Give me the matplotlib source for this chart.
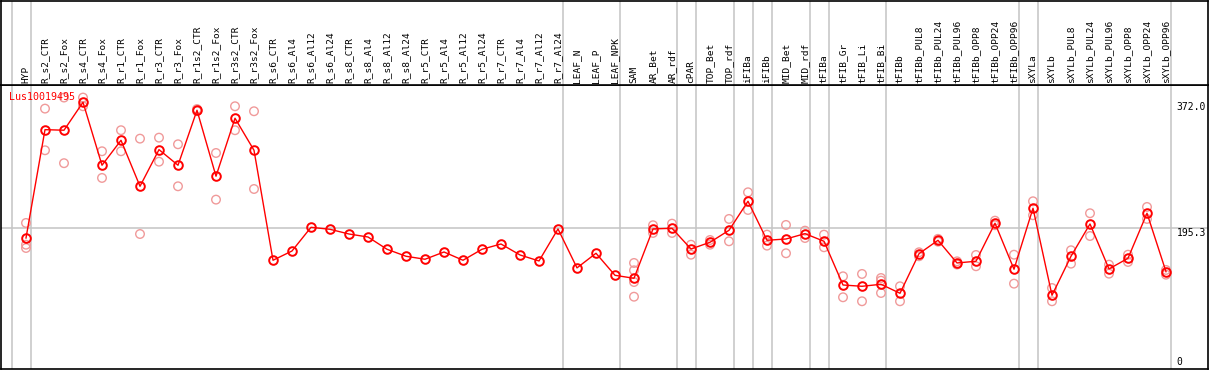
import matplotlib
matplotlib.use("Agg")
import matplotlib.pyplot as plt
import matplotlib.transforms as mtransforms
import numpy as np

# sample labels, one column each
labels = ["HYP",
          "R_s2_CTR", "R_s2_Fox", "R_s4_CTR", "R_s4_Fox", "R_r1_CTR", "R_r1_Fox",
          "R_r3_CTR", "R_r3_Fox", "R_r1s2_CTR", "R_r1s2_Fox", "R_r3s2_CTR", "R_r3s2_Fox",
          "R_s6_CTR", "R_s6_Al4", "R_s6_Al12", "R_s6_Al24",
          "R_s8_CTR", "R_s8_Al4", "R_s8_Al12", "R_s8_Al24",
          "R_r5_CTR", "R_r5_Al4", "R_r5_Al12", "R_r5_Al24",
          "R_r7_CTR", "R_r7_Al4", "R_r7_Al12", "R_r7_Al24",
          "LEAF_N", "LEAF_P", "LEAF_NPK",
          "SAM", "AR_Bet", "AR_rdf", "cPAR", "TOP_Bet", "TOP_rdf",
          "iFIBa", "iFIBb", "MID_Bet", "MID_rdf",
          "tFIBa", "tFIB_Gr", "tFIB_Li", "tFIB_Bi",
          "tFIBb", "tFIBb_PUL8", "tFIBb_PUL24", "tFIBb_PUL96",
          "tFIBb_OPP8", "tFIBb_OPP24", "tFIBb_OPP96",
          "sXYLa", "sXYLb", "sXYLb_PUL8", "sXYLb_PUL24", "sXYLb_PUL96",
          "sXYLb_OPP8", "sXYLb_OPP24", "sXYLb_OPP96"]

# columns per tissue group (gray separators between groups)
group_sizes = [1, 28, 3, 3, 1, 2, 1, 1, 2, 1, 3, 7, 1, 7]

gene = "Lus10019495"

means = [181.7,
         333.6, 332.8, 372.0, 283.7, 318.7, 254.2, 305.6, 283.7, 360.8, 268.3, 349.6, 304.7,
         150.5, 163.5, 196.7, 193.9, 187.3, 183.1, 165.9, 156.1,
         151.9, 162.1, 150.5, 165.9, 173.3, 157.9, 149.5, 194.4,
         139.8, 160.3, 129.4,
         125.2, 194.4, 195.3, 166.3, 175.7, 192.5,
         233.2, 178.5, 180.3, 187.8,
         177.1, 115.8, 114.0, 116.8,
         104.2, 159.7, 178.5, 146.7, 149.1, 202.4, 137.9,
         223.4, 101.4, 156.1, 201.4, 138.3, 153.3, 216.4, 134.5]

# individual replicates (pale circles)
reps = [[202.8, 172.3, 167.7],
        [363.1, 304.7], [378.6, 286.6], [378.6, 366.4], [303.3, 265.9],
        [332.8, 303.3], [321.0, 187.3], [322.4, 288.7], [313.1, 254.2],
        [362.5, 359.5], [300.9, 235.5], [366.4, 332.8], [359.4, 250.4],
        [], [], [], [], [], [], [], [], [], [], [], [], [], [], [], [],
        [], [], [],
        [146.7, 136.4, 120.0, 99.4], [199.6, 188.8], [201.8, 188.8],
        [172.3, 158.3], [178.9, 172.3], [208.4, 177.1],
        [245.8, 221.0], [186.4, 171.0], [200.0, 160.3], [192.0, 181.7],
        [186.4, 168.7], [128.0, 98.6], [131.3, 93.0], [125.6, 121.9, 104.6],
        [114.0, 93.0], [161.7, 156.1], [180.5, 176.5], [149.0, 144.5],
        [157.9, 142.1], [206.0, 199.6], [158.3, 117.7],
        [233.2, 213.6], [111.6, 93.0], [164.5, 145.7], [216.4, 184.5],
        [144.3, 131.7], [158.3, 148.1], [225.2, 208.4], [136.9, 130.3]]

ref_vals = [372.0, 195.3, 0]

W, H = 1209, 370
fig = plt.figure(figsize=(W / 100, H / 100), dpi=100)
mono = "DejaVu Sans Mono"

# pixel geometry of the plot
left_px, right_px = 1, 1208
sep_px = 85
x0_px, dx_px = 26, 19
ax = fig.add_axes([left_px / W, 1 / H, (right_px - left_px) / W, (H - 1 - sep_px) / H])
axt = fig.add_axes([left_px / W, (H - sep_px) / H, (right_px - left_px) / W, (sep_px - 1) / H],
                   sharex=ax)

ax.set_xlim((left_px - x0_px) / dx_px, (right_px - x0_px) / dx_px)
ax.set_ylim(-1.96, 396.2)
axt.set_ylim(0, 1)

for a in (ax, axt):
    a.set_xticks([])
    a.set_yticks([])
    for s in a.spines.values():
        s.set_color("black")
        s.set_linewidth(1.2)
axt.tick_params(labelbottom=False)

x = np.arange(len(labels))

# group separators
bounds = np.concatenate([[-1], np.cumsum(group_sizes) - 1])
for b in bounds:
    ax.axvline(b + 0.27, color="#c4c4c4", lw=1.1, zorder=1)
    axt.axvline(b + 0.27, color="#c4c4c4", lw=1.1, zorder=1)

ax.axhline(ref_vals[1], color="#c4c4c4", lw=1.1, zorder=1)

# replicates
rx = [i for i, r in enumerate(reps) for _ in r]
ry = [v for r in reps for v in r]
ax.scatter(rx, ry, s=38, facecolors="none", edgecolors="#f09a9a", linewidths=1.0, zorder=2)

# mean line
ax.plot(x, means, color="red", lw=1.0, marker="o", ms=6.2, mfc="none",
        mec="red", mew=1.4, zorder=3)

# column labels
trans = mtransforms.blended_transform_factory(axt.transData, axt.transAxes)
for i, lab in enumerate(labels):
    axt.text(i, 0.025, lab, rotation=90, ha="center", va="bottom",
             fontsize=6.8, family=mono, transform=trans)

# gene name
ax.text(-0.9, 379.9, gene, color="red", fontsize=7.2, family=mono,
        ha="left", va="center", zorder=4)

# value labels on the right
xr = len(labels) - 1 + 0.55
ax.text(xr, ref_vals[0], "%.1f" % ref_vals[0], fontsize=7, family=mono, ha="left", va="top")
ax.text(xr, ref_vals[1], "%.1f" % ref_vals[1], fontsize=7, family=mono, ha="left", va="top")
ax.text(xr, ref_vals[2] + 1.5, "%d" % ref_vals[2], fontsize=7, family=mono, ha="left", va="bottom")

fig.savefig("out.png", dpi=100)
